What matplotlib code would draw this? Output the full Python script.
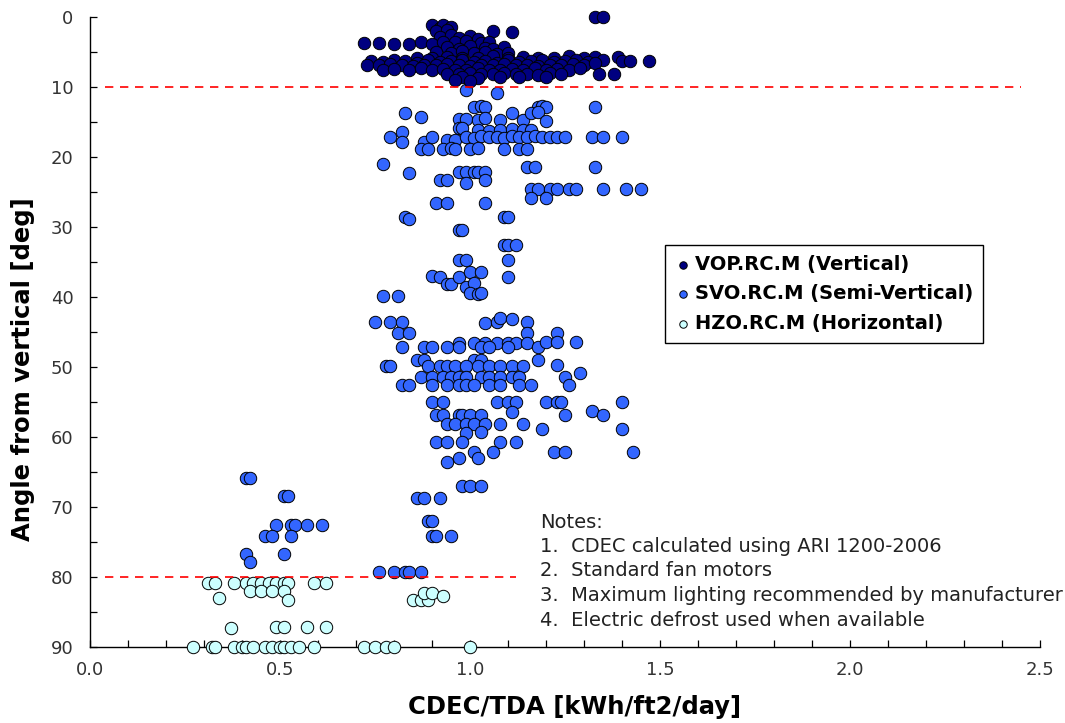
import matplotlib
matplotlib.use("Agg")
import matplotlib.pyplot as plt
from matplotlib.ticker import MultipleLocator, FormatStrFormatter

plt.rcParams['font.family'] = ['DejaVu Sans']

# ---------------- data ----------------
vop_x = [1.33, 1.35,
         0.90, 0.92, 0.93, 0.95,
         0.91, 0.94,
         1.06, 1.11,
         0.92, 0.95, 0.97, 1.00, 1.02,
         0.72, 0.76, 0.80, 0.84, 0.87, 0.90, 0.93, 0.96, 0.99, 1.03, 1.05,
         0.94, 0.97, 1.00, 1.04, 1.06, 1.09,
         0.91, 0.95, 0.98, 1.01, 1.04, 1.07, 1.10,
         0.86, 0.90, 0.94, 0.98, 1.02, 1.06, 1.10, 1.14, 1.18, 1.22, 1.26, 1.30, 1.33, 1.39,
         0.74, 0.77, 0.80, 0.83, 0.86, 0.89, 0.92, 0.95, 0.98, 1.01, 1.04, 1.07, 1.10, 1.13,
         1.16, 1.19, 1.22, 1.25, 1.28, 1.31, 1.35, 1.40, 1.42, 1.47,
         0.73, 0.76, 0.79, 0.82, 0.85, 0.88, 0.91, 0.94, 0.97, 1.00, 1.03, 1.06, 1.09, 1.12,
         1.15, 1.18, 1.21, 1.24, 1.27, 1.30, 1.33,
         0.77, 0.80, 0.84, 0.87, 0.90, 0.93, 0.96, 0.99, 1.02, 1.05, 1.08, 1.11, 1.14, 1.17,
         1.20, 1.23, 1.26, 1.29,
         0.94, 0.97, 1.00, 1.03, 1.06, 1.09, 1.12, 1.15, 1.18, 1.21, 1.24, 1.34, 1.38,
         0.98, 1.02, 1.08, 1.13, 1.20,
         0.96, 1.00]
vop_y = [0.0, 0.0,
         1.2, 1.5, 1.1, 1.4,
         2.0, 1.9,
         2.0, 2.1,
         2.8, 2.6, 3.0, 2.7, 3.1,
         3.7, 3.7, 3.8, 3.9, 3.6, 3.8, 3.5, 3.6, 3.4, 3.7, 3.5,
         4.3, 4.5, 4.2, 4.4, 4.6, 4.3,
         5.0, 5.1, 4.9, 5.2, 5.0, 5.3, 5.1,
         5.8, 5.9, 5.7, 5.8, 5.9, 5.6, 5.8, 5.7, 5.9, 5.8, 5.6, 5.8, 5.7, 5.7,
         6.3, 6.4, 6.2, 6.3, 6.5, 6.2, 6.4, 6.3, 6.2, 6.4, 6.3, 6.5, 6.2, 6.4,
         6.3, 6.2, 6.4, 6.3, 6.1, 6.4, 6.2, 6.3, 6.3, 6.3,
         6.8, 6.9, 6.7, 6.8, 7.0, 6.8, 6.9, 6.7, 6.8, 7.0, 6.9, 6.8, 6.7, 6.9,
         6.8, 7.0, 6.8, 6.9, 6.7, 6.8, 6.6,
         7.5, 7.4, 7.6, 7.3, 7.5, 7.4, 7.6, 7.5, 7.3, 7.5, 7.6, 7.4, 7.5, 7.3,
         7.6, 7.4, 7.5, 7.3,
         8.1, 8.2, 8.0, 8.2, 8.1, 8.0, 8.2, 8.1, 8.3, 8.0, 8.2, 8.1, 8.1,
         8.6, 8.7, 8.5, 8.6, 8.5,
         9.0, 9.2]

svo_x = [0.99, 1.07,
         1.01, 1.03, 1.04, 1.18, 1.19, 1.20, 1.33,
         0.83, 0.87, 0.97, 0.99,
         1.02, 1.04, 1.08, 1.11, 1.14, 1.16, 1.18, 1.20,
         0.97, 0.98, 1.02, 1.05, 1.08, 1.11, 1.14, 1.16,
         0.79, 0.82, 0.82, 0.88, 0.90, 0.94, 0.96,
         0.99, 1.01, 1.03, 1.05, 1.07, 1.09, 1.11, 1.13, 1.15, 1.17, 1.19, 1.21, 1.23, 1.25,
         1.32, 1.35, 1.40,
         0.87, 0.89, 0.93, 0.95, 0.96, 1.00, 1.02, 1.09, 1.13, 1.15,
         0.77, 0.84, 1.15, 1.17, 1.33,
         0.97, 0.99, 1.01, 1.02, 1.04,
         0.92, 0.94, 0.99, 1.04,
         1.16, 1.18, 1.21, 1.23, 1.26, 1.28, 1.35, 1.41, 1.45,
         1.16, 1.20,
         0.91, 0.94, 1.04,
         0.83, 0.84, 1.09, 1.10,
         0.97, 0.98,
         1.09, 1.10, 1.12,
         0.97, 0.99, 1.10,
         0.90, 0.92, 0.94, 0.95, 0.97, 1.00, 1.03, 0.99, 1.01, 1.10,
         0.77, 0.81, 1.00, 1.02, 1.03,
         0.75, 0.79, 0.82, 1.04, 1.07, 1.08, 1.11, 1.15,
         0.81, 0.84, 1.15, 1.23,
         0.97, 1.01, 1.04, 1.07, 1.10, 1.12, 1.15, 1.18, 1.20, 1.23, 1.28,
         0.82, 0.88, 0.90, 0.94, 0.97, 1.03, 1.05, 1.10,
         0.86, 0.88, 1.01, 1.03, 1.18,
         0.78, 0.79, 0.89, 0.92, 0.94, 0.96, 0.99, 1.02, 1.05, 1.08, 1.11, 1.14, 1.23,
         1.29, 1.25, 1.26,
         0.87, 0.90, 0.93, 0.95, 0.97, 0.99, 1.03, 1.05, 1.08, 1.11, 1.13,
         0.82, 0.84, 0.90, 0.94, 0.97, 0.99, 1.01, 1.05, 1.08, 1.13, 1.16,
         0.90, 0.93, 1.07, 1.10, 1.12, 1.20, 1.23, 1.24, 1.40,
         1.32, 1.35, 1.25,
         0.91, 0.93, 0.97, 0.98, 1.00, 1.03, 1.11,
         0.94, 0.96, 0.99, 1.01, 1.04, 1.08, 1.14,
         1.19, 1.40, 0.99, 1.03,
         0.91, 0.94, 0.98, 1.08, 1.12,
         1.22, 1.25, 1.43, 1.01, 1.06,
         0.94, 0.97, 1.02,
         0.98, 1.00, 1.03,
         0.41, 0.42, 0.51, 0.52,
         0.86, 0.88, 0.92,
         0.49, 0.53, 0.54, 0.57, 0.61,
         0.89, 0.90,
         0.46, 0.48, 0.53, 0.90, 0.91, 0.95,
         0.41, 0.42, 0.51,
         0.76, 0.80, 0.83, 0.84, 0.87]
svo_y = [10.4, 10.9,
         12.9, 12.7, 12.9, 12.9, 12.7, 12.9, 12.9,
         13.7, 14.3, 14.5, 14.5,
         14.7, 14.4, 14.7, 13.7, 14.7, 13.7, 13.5, 14.9,
         15.9, 15.9, 16.1, 16.3, 16.1, 16.0, 16.1, 16.2,
         17.1, 16.4, 17.9, 17.9, 17.1, 17.6, 17.6,
         17.1, 17.3, 17.0, 17.2, 17.1, 17.3, 17.0, 17.2, 17.1, 17.0, 17.2, 17.1, 17.1, 17.1,
         17.1, 17.1, 17.1,
         18.9, 18.9, 18.9, 18.7, 18.9, 18.9, 18.7, 18.9, 18.9, 18.9,
         21.0, 22.3, 21.4, 21.4, 21.4,
         22.1, 22.1, 22.1, 22.1, 22.1,
         23.3, 23.3, 23.7, 23.3,
         24.6, 24.6, 24.6, 24.6, 24.6, 24.6, 24.6, 24.6, 24.6,
         25.9, 25.9,
         26.5, 26.5, 26.5,
         28.6, 28.8, 28.6, 28.6,
         30.4, 30.4,
         32.5, 32.5, 32.5,
         34.7, 34.7, 34.7,
         37.0, 37.1, 38.1, 38.1, 37.1, 36.4, 36.4, 38.6, 38.0, 37.1,
         39.9, 39.9, 39.4, 39.6, 39.4,
         43.6, 43.6, 43.6, 43.7, 43.6, 43.0, 43.1, 43.6,
         45.1, 45.1, 45.1, 45.1,
         46.6, 46.6, 46.6, 46.6, 46.6, 46.6, 46.6, 47.1, 46.4, 46.4, 46.4,
         47.1, 47.1, 47.1, 47.1, 47.1, 47.1, 47.1, 47.1,
         49.0, 49.0, 49.0, 49.0, 49.0,
         49.9, 49.9, 49.9, 49.9, 49.9, 49.9, 49.9, 49.9, 49.9, 49.9, 49.9, 49.9, 49.7,
         50.8, 51.4, 52.6,
         51.4, 51.4, 51.4, 51.4, 51.4, 51.4, 51.4, 51.4, 51.4, 51.4, 51.4,
         52.6, 52.6, 52.6, 52.6, 52.6, 52.6, 52.6, 52.6, 52.6, 52.6, 52.6,
         55.0, 55.0, 55.0, 55.0, 55.0, 55.0, 55.0, 55.0, 55.0,
         56.3, 56.9, 56.9,
         56.9, 56.9, 56.9, 56.9, 56.9, 56.9, 56.4,
         58.1, 58.1, 58.1, 58.1, 58.1, 58.1, 58.1,
         58.9, 58.9, 59.4, 59.3,
         60.7, 60.7, 60.7, 60.7, 60.7,
         62.1, 62.1, 62.1, 62.1, 62.1,
         63.6, 63.0, 63.0,
         67.0, 67.0, 67.0,
         65.9, 65.9, 68.4, 68.4,
         68.7, 68.7, 68.7,
         72.6, 72.6, 72.6, 72.6, 72.6,
         72.0, 72.0,
         74.1, 74.1, 74.1, 74.1, 74.1, 74.1,
         76.7, 77.9, 76.7,
         79.3, 79.3, 79.3, 79.3, 79.3]

hzo_x = [0.31, 0.33, 0.38, 0.41, 0.43, 0.45, 0.47, 0.49, 0.51, 0.52, 0.59, 0.62,
         0.42, 0.45, 0.48, 0.51,
         0.34, 0.52,
         0.85, 0.87, 0.89, 0.88, 0.90, 0.93,
         0.37, 0.49, 0.51, 0.57, 0.62,
         0.27, 0.32, 0.33, 0.38, 0.40, 0.41, 0.43, 0.46, 0.48, 0.50, 0.51, 0.53, 0.55,
         0.59, 0.72, 0.75, 0.78, 0.80, 1.00]
hzo_y = [80.9, 80.9, 80.9, 80.9, 80.9, 80.9, 80.9, 80.9, 80.9, 80.9, 80.9, 80.9,
         82.0, 82.0, 82.0, 82.0,
         83.0, 83.3,
         83.3, 83.3, 83.3, 82.3, 82.3, 82.7,
         87.3, 87.1, 87.1, 87.1, 87.1,
         90.0, 90.0, 90.0, 90.0, 90.0, 90.0, 90.0, 90.0, 90.0, 90.0, 90.0, 90.0, 90.0,
         90.0, 90.0, 90.0, 90.0, 90.0, 90.0]

series_labels = ["VOP.RC.M (Vertical)", "SVO.RC.M (Semi-Vertical)", "HZO.RC.M (Horizontal)"]
notes_lines = ["Notes:",
               "1.  CDEC calculated using ARI 1200-2006",
               "2.  Standard fan motors",
               "3.  Maximum lighting recommended by manufacturer",
               "4.  Electric defrost used when available"]

# ---------------- figure ----------------
fig = plt.figure(figsize=(10.65, 7.23), dpi=100)
ax = fig.add_axes([90/1065, 1-647/723, 950/1065, 630/723])

ms = 80
ax.scatter(hzo_x, hzo_y, s=ms, c="#CCFFFF", edgecolors="black", linewidths=0.7,
           label=series_labels[2], zorder=3, clip_on=False)
ax.scatter(svo_x, svo_y, s=ms, c="#3366FF", edgecolors="black", linewidths=0.7,
           label=series_labels[1], zorder=3, clip_on=False)
ax.scatter(vop_x, vop_y, s=ms, c="#000080", edgecolors="black", linewidths=0.7,
           label=series_labels[0], zorder=3, clip_on=False)

ax.plot([0.04, 2.45], [10, 10], color="red", lw=1.2, ls=(0, (5, 4)), zorder=4)
ax.plot([0.04, 1.12], [80, 80], color="red", lw=1.2, ls=(0, (5, 4)), zorder=4)

ax.set_xlim(0, 2.5)
ax.set_ylim(90, 0)
ax.xaxis.set_major_locator(MultipleLocator(0.5))
ax.xaxis.set_minor_locator(MultipleLocator(0.1))
ax.xaxis.set_major_formatter(FormatStrFormatter('%.1f'))
ax.yaxis.set_major_locator(MultipleLocator(10))
ax.yaxis.set_minor_locator(MultipleLocator(5))
ax.tick_params(which='both', direction='in', length=5, width=0.9, labelsize=13,
               colors='black')
ax.tick_params(axis='x', pad=10)
ax.tick_params(axis='y', pad=12)
for lab in ax.get_xticklabels() + ax.get_yticklabels():
    lab.set_color('#333333')
ax.spines['top'].set_visible(False)
ax.spines['right'].set_visible(False)
ax.spines['left'].set_linewidth(1.0)
ax.spines['bottom'].set_linewidth(1.0)

ax.set_xlabel("CDEC/TDA [kWh/ft2/day]", fontsize=17.5, fontweight='bold')
ax.set_ylabel("Angle from vertical [deg]", fontsize=17.5, fontweight='bold')
ax.xaxis.set_label_coords((575-90)/950, (647-695)/630)
ax.yaxis.set_label_coords((35-90)/950, (647-369)/630)

h, l = ax.get_legend_handles_labels()
order = [2, 1, 0]
leg = ax.legend([h[i] for i in order], [l[i] for i in order],
                loc='upper left', bbox_to_anchor=((665-90)/950, (647-245)/630),
                borderaxespad=0,
                frameon=True, fancybox=False, edgecolor='black', framealpha=1,
                markerscale=0.6, handletextpad=0.15, handlelength=0.9,
                borderpad=0.5, labelspacing=0.55,
                prop={'weight': 'bold', 'size': 14})
leg.get_frame().set_linewidth(1.0)

for i, line in enumerate(notes_lines):
    ax.text((540-90)/950, (647-522-i*24.5)/630, line, transform=ax.transAxes,
            fontsize=14, va='center', ha='left', color='#222222')

fig.savefig("out.png", dpi=100)
